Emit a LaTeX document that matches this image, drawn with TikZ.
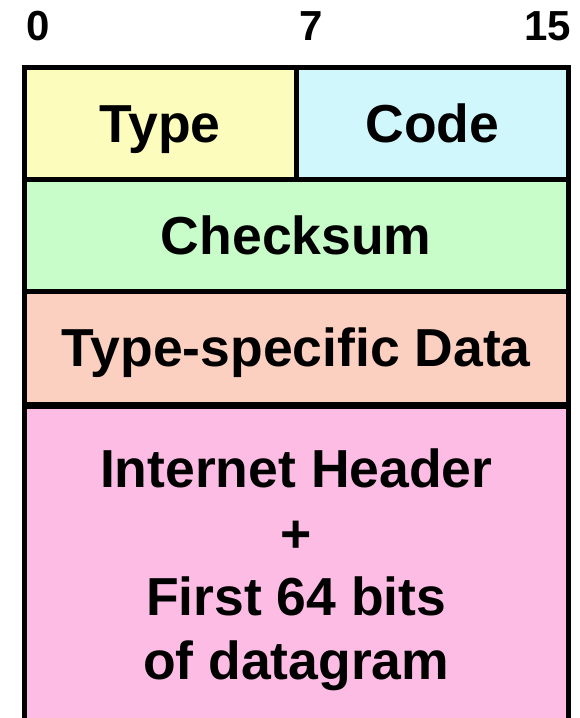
\documentclass[tikz,border=0pt]{standalone}
\usepackage{fontspec}
\setmainfont{Liberation Sans}
\definecolor{cyellow}{RGB}{252,252,188}
\definecolor{ccyan}{RGB}{208,248,252}
\definecolor{cgreen}{RGB}{200,252,200}
\definecolor{csalmon}{RGB}{252,208,192}
\definecolor{cpink}{RGB}{252,188,228}
\tikzset{
  cell/.style={draw=black, line width=5pt, rectangle, inner sep=0pt,
    font=\fontsize{53.5}{64}\selectfont\bfseries, text height=38pt, text depth=0pt},
  bitlabel/.style={inner sep=0pt, font=\fontsize{42}{48}\selectfont\bfseries},
  bigtext/.style={inner sep=0pt, anchor=base, font=\fontsize{53.5}{64}\selectfont\bfseries}
}
\begin{document}
\begin{tikzpicture}[x=1pt,y=-1pt]
\useasboundingbox (0,0) rectangle (580,718);
\clip (0,0) rectangle (580,718);
\fill[white] (0,0) rectangle (580,718);
\node[bitlabel, anchor=base west] (b0) at (26,40) {0};
\node[bitlabel, anchor=base] (b7) at (311,40) {7};
\node[bitlabel, anchor=base east] (b15) at (571,40) {15};
\node[cell, fill=cpink, minimum width=544.5pt, minimum height=400pt, anchor=north] (data) at (296.25,404) {};
\node[cell, fill=csalmon, minimum width=544.5pt, minimum height=112.5pt] (tsd) at (296.25,347.75) {Type-specific Data};
\node[cell, fill=cgreen, minimum width=544.5pt, minimum height=112pt] (chk) at (296.25,235.5) {Checksum};
\node[cell, fill=cyellow, minimum width=272pt, minimum height=112pt] (type) at (160,123.5) {Type};
\node[cell, fill=ccyan, minimum width=272.5pt, minimum height=112pt] (code) at (432.25,123.5) {Code};
\node[bigtext] (l1) at (296.25,487) {Internet Header};
\node[bigtext] (l2) at (296.25,552) {+};
\node[bigtext] (l3) at (296.25,615) {First 64 bits};
\node[bigtext] (l4) at (296.25,679) {of datagram};
\end{tikzpicture}
\end{document}
